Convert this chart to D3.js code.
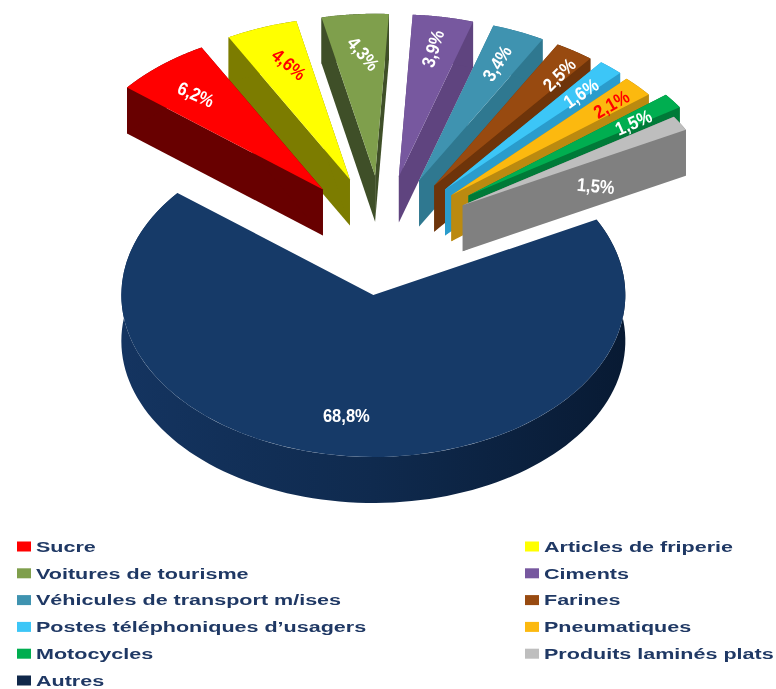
<!DOCTYPE html>
<html><head><meta charset="utf-8">
<script src="https://cdnjs.cloudflare.com/ajax/libs/d3/7.8.5/d3.min.js"></script>
<style>html,body{margin:0;padding:0;background:#fff;overflow:hidden}svg{display:block;filter:blur(0.55px)}</style>
</head><body><svg id="c" width="776" height="689"></svg>
<script>
const categories = ["Sucre","Articles de friperie","Voitures de tourisme","Ciments","Véhicules de transport m/ises","Farines","Postes téléphoniques d’usagers","Pneumatiques","Motocycles","Produits laminés plats","Autres"];
const shares = [6.2,4.6,4.3,3.9,3.4,2.5,1.6,2.1,1.5,1.5,68.8];
const valueLabels = ["6,2%","4,6%","4,3%","3,9%","3,4%","2,5%","1,6%","2,1%","1,5%","1,5%","68,8%"];
const topColors = ["#ff0000","#ffff00","#7f9f4c","#77589f","#3f93b0","#984a10","#3cc6f7","#fcb90f","#00ae50","#bebebe","#163a68"];
const sideColors = ["#680000","#7c7c00","#3f4f28","#5f447f","#2f7890","#6e340a","#2a9ccc","#bb8a10","#007a38","#808080","url(#autresSide)"];
const labelColors = ["#fff","#ff0000","#fff","#fff","#fff","#fff","#fff","#ff0000","#fff","#fff","#fff"];
// how far each slice is pulled out of the pie
const explosion = [93,93,93,93,93,93,95,93,106,93,93];
// label placement relative to the slice apex, and tilt
const labelDx = [-127,-61,-12,34,78,125,136,160,165,133,-27];
const labelDy = [-95,-115,-122,-128,-117,-111,-96,-91,-73,-19,121];
const labelTilt = [24,40,50,-73,-58,-45,-34,-30,-24,5,0];

const cx=382.5, cy=235.4, R=252, k=0.643, depth=46;
const startDeg=-51;
const svg=d3.select("#c");
const grad=svg.append("defs").append("linearGradient").attr("id","autresSide");
grad.append("stop").attr("offset","0").attr("stop-color","#143460");
grad.append("stop").attr("offset","0.5").attr("stop-color","#0f2a4e");
grad.append("stop").attr("offset","1").attr("stop-color","#081a33");
const pie=d3.pie().sort(null).value(d=>d).startAngle(startDeg*Math.PI/180).endAngle(startDeg*Math.PI/180+2*Math.PI);
const arcs=pie(shares).map((a,i)=>{
  const mid=(a.startAngle+a.endAngle)/2;
  return {...a,i,mid,ax:cx+explosion[i]*Math.sin(mid),ay:cy-explosion[i]*k*Math.cos(mid)};
});
const pt=(d,ang,r)=>[d.ax+r*Math.sin(ang),d.ay-r*k*Math.cos(ang)];
const arcTop=d3.arc().innerRadius(0).outerRadius(R);
const poly=d3.line();
const band=d3.area().x(p=>p[0]).y0(p=>p[1]).y1(p=>p[1]+depth);
const order=arcs.slice().sort((a,b)=>Math.cos(b.mid)-Math.cos(a.mid));
const gs=svg.append("g").selectAll("g").data(order).join("g");
gs.each(function(d){
  const g=d3.select(this), c=sideColors[d.i];
  const isBig=shares[d.i]>50;
  if(!isBig){
    [d.startAngle,d.endAngle].forEach(ang=>{
      const a=[d.ax,d.ay], b=pt(d,ang,R);
      g.append("path").attr("fill",c).attr("d",poly([a,b,[b[0],b[1]+depth],[a[0],a[1]+depth]])+"Z");
    });
  }
  const samples=d3.range(0,121).map(t=>pt(d,d.startAngle+(d.endAngle-d.startAngle)*t/120,R));
  g.append("path").attr("fill",c).attr("d",band(samples));
  g.append("path").attr("fill",topColors[d.i])
    .attr("transform",`translate(${d.ax},${d.ay}) scale(1,${k})`)
    .attr("d",arcTop({startAngle:d.startAngle,endAngle:d.endAngle}));
});
svg.append("g").selectAll("text").data(arcs).join("text")
  .attr("transform",d=>`translate(${d.ax+labelDx[d.i]},${d.ay+labelDy[d.i]}) rotate(${labelTilt[d.i]}) scale(0.92,1.04)`)
  .attr("text-anchor","middle").attr("dominant-baseline","central")
  .attr("font-family","'Liberation Sans',Arial,sans-serif")
  .attr("font-weight","bold").attr("font-size",18)
  .attr("fill",d=>labelColors[d.i]).text(d=>valueLabels[d.i]);

// legend
const rowY=d3.scaleLinear().domain([0,5]).range([546.5,680.5]);
const colX=d3.scaleOrdinal().domain([0,1]).range([17,525]);
const leg=svg.append("g").selectAll("g").data(categories).join("g")
  .attr("transform",(d,i)=>`translate(${colX(i%2)},${rowY(Math.floor(i/2))})`);
leg.append("rect").attr("x",0).attr("y",-5).attr("width",14).attr("height",10).attr("fill",(d,i)=>d==="Autres"?"#10284a":topColors[i]);
leg.append("text").attr("transform","translate(19,0) scale(1.39,1)")
  .attr("dominant-baseline","central")
  .attr("font-family","'Liberation Sans',Arial,sans-serif").attr("font-weight","bold").attr("font-size",15.5)
  .attr("fill","#1f3864").text(d=>d);
</script></body></html>
